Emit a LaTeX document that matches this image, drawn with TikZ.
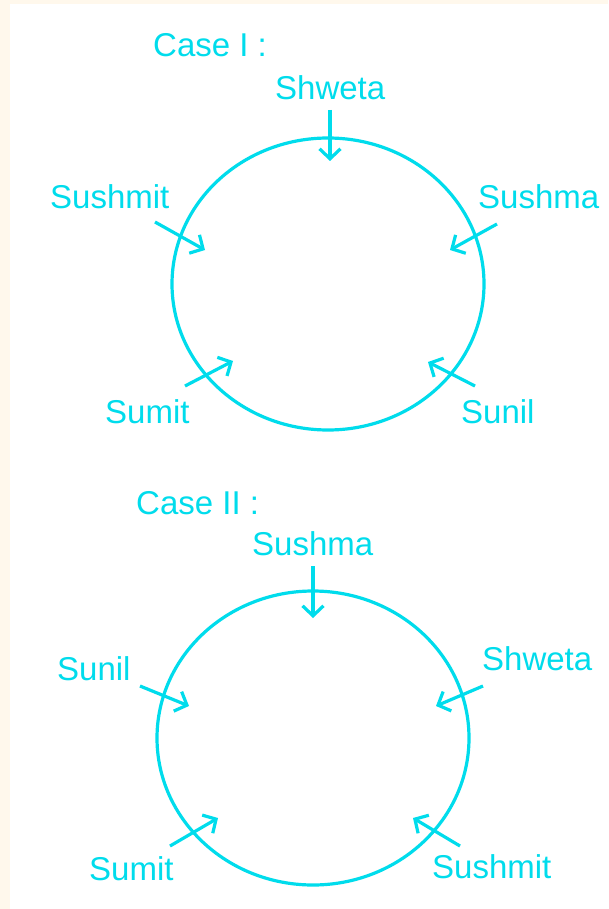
\documentclass[tikz,border=0pt]{standalone}
\usepackage{fontspec}
\setmainfont{Liberation Sans}
\usetikzlibrary{positioning,arrows.meta}
\definecolor{cRing}{RGB}{0,220,236}
\definecolor{cCream}{RGB}{255,248,236}

\begin{document}
\begin{tikzpicture}[x=1pt,y=-1pt,
   lbl/.style={anchor=base west,inner sep=0pt,text=cRing,font=\fontsize{33}{38}\selectfont},
   ring/.style={draw=cRing,line width=3.2pt},
   arr/.style={draw=cRing,line width=3.2pt,-{Straight Barb[length=10pt,width=21pt,line width=3.2pt]}}]
  % page and cream border
  \fill[cCream] (0,0) rectangle (608,909);
  \fill[white] (10,4) rectangle (608,909);
  \useasboundingbox (0,0) rectangle (608,909);
  % Case I
  \node[lbl] (case1) at (153,57) {Case I :};
  \coordinate (c1) at (328,284);
  \draw[ring] (c1) ellipse [x radius=156pt,y radius=146pt];
  \node[lbl] (shweta1)  at (275,100) {Shweta};
  \node[lbl] (sushmit1) at (50,209)  {Sushmit};
  \node[lbl] (sushma1)  at (478,209) {Sushma};
  \node[lbl] (sumit1)   at (105,423) {Sumit};
  \node[lbl] (sunil1)   at (461,423) {Sunil};
  \coordinate (a1s) at (330,110); \coordinate (a1t) at (330,161);
  \coordinate (b1s) at (155,222); \coordinate (b1t) at (205,250);
  \coordinate (d1s) at (497,224); \coordinate (d1t) at (450,250);
  \coordinate (e1s) at (185,386); \coordinate (e1t) at (233,361);
  \coordinate (f1s) at (475,386); \coordinate (f1t) at (428,362);
  \foreach \p in {a1,b1,d1,e1,f1}
    \draw[arr] (\p s) -- (\p t);
  % Case II
  \node[lbl] (case2) at (136,514) {Case II :};
  \coordinate (c2) at (313,738);
  \draw[ring] (c2) ellipse [x radius=156pt,y radius=147pt];
  \node[lbl] (sushma2)  at (252,555) {Sushma};
  \node[lbl] (sunil2)   at (57,680)  {Sunil};
  \node[lbl] (shweta2)  at (482,670) {Shweta};
  \node[lbl] (sumit2)   at (89,880)  {Sumit};
  \node[lbl] (sushmit2) at (432,878) {Sushmit};
  \coordinate (a2s) at (313,566); \coordinate (a2t) at (313,618);
  \coordinate (b2s) at (140,686); \coordinate (b2t) at (189,706);
  \coordinate (d2s) at (483,686); \coordinate (d2t) at (436,706);
  \coordinate (e2s) at (170,846); \coordinate (e2t) at (218,818);
  \coordinate (f2s) at (460,846); \coordinate (f2t) at (413,818);
  \foreach \p in {a2,b2,d2,e2,f2}
    \draw[arr] (\p s) -- (\p t);
\end{tikzpicture}
\end{document}
